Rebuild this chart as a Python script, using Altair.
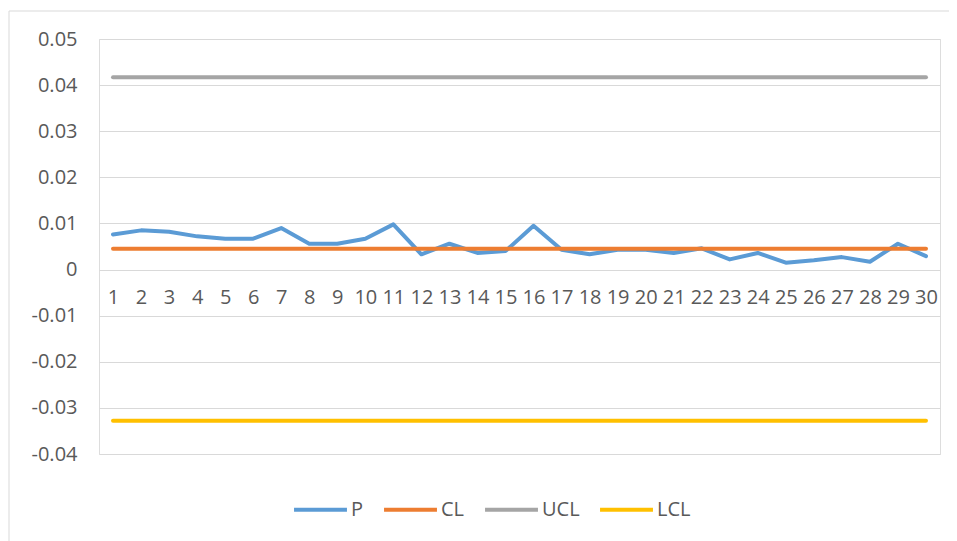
import altair as alt
import pandas as pd

# ---- data ----
samples = list(range(1, 31))
p_values = [0.0076, 0.0085, 0.0082, 0.0072, 0.0067, 0.0067, 0.0090, 0.0056, 0.0056, 0.0067,
            0.0098, 0.0033, 0.0056, 0.0036, 0.0040, 0.0095, 0.0043, 0.0033, 0.0043, 0.0043,
            0.0036, 0.0046, 0.0022, 0.0036, 0.0015, 0.0020, 0.0027, 0.0017, 0.0056, 0.0029]
cl_value = 0.0045
ucl_value = 0.0417
lcl_value = -0.0328
series_names = ["P", "CL", "UCL", "LCL"]
series_colors = ["#5B9BD5", "#ED7D31", "#A5A5A5", "#FFC000"]
y_ticks = [-0.04, -0.03, -0.02, -0.01, 0, 0.01, 0.02, 0.03, 0.04, 0.05]

rows = []
for name, vals in [("P", p_values),
                   ("CL", [cl_value] * len(samples)),
                   ("UCL", [ucl_value] * len(samples)),
                   ("LCL", [lcl_value] * len(samples))]:
    for s, v in zip(samples, vals):
        rows.append({"series": name, "sample": s, "value": v})
df = pd.DataFrame(rows)

FONT = "Open Sans"
TXT = "#595959"

lines = alt.Chart(df).mark_line(strokeWidth=4, strokeCap="round", strokeJoin="round").encode(
    x=alt.X("sample:O", sort=samples, title=None,
            scale=alt.Scale(paddingOuter=0.5),
            axis=alt.Axis(labelAngle=0, ticks=False, domain=False, grid=False,
                          offset=-184, labelPadding=17, labelFont=FONT,
                          labelFontSize=20, labelColor=TXT)),
    y=alt.Y("value:Q", title=None,
            scale=alt.Scale(domain=[-0.04, 0.05], nice=False, zero=False),
            axis=alt.Axis(values=y_ticks, ticks=False, domain=False, grid=True,
                          gridColor="#D9D9D9", gridWidth=1,
                          labelExpr="'' + datum.value", labelPadding=22,
                          labelFont=FONT, labelFontSize=20, labelColor=TXT)),
    color=alt.Color("series:N", title=None,
                    scale=alt.Scale(domain=series_names, range=series_colors),
                    legend=alt.Legend(orient="none", legendX=193, legendY=442,
                                      direction="horizontal", columns=4,
                                      symbolType="stroke", symbolSize=2800,
                                      symbolStrokeWidth=4, labelFont=FONT,
                                      labelFontSize=20, labelColor=TXT,
                                      labelOffset=2, columnPadding=12)),
    detail="series:N",
)

frame = alt.Chart(pd.DataFrame({"a": [0]})).mark_rect(
    fill="transparent", stroke="#D9D9D9", strokeWidth=1, clip=False
).encode(x=alt.value(-90), x2=alt.value(900), y=alt.value(-28), y2=alt.value(560))

chart = alt.layer(frame, lines).properties(
    width=841, height=415,
    padding={"left": 91, "top": 31, "right": 9, "bottom": 90},
    autosize=alt.AutoSizeParams(type="none"),
).configure_view(stroke=None).configure(background="white")

chart.save("out.html", embed_options={"renderer": "svg", "actions": False})
